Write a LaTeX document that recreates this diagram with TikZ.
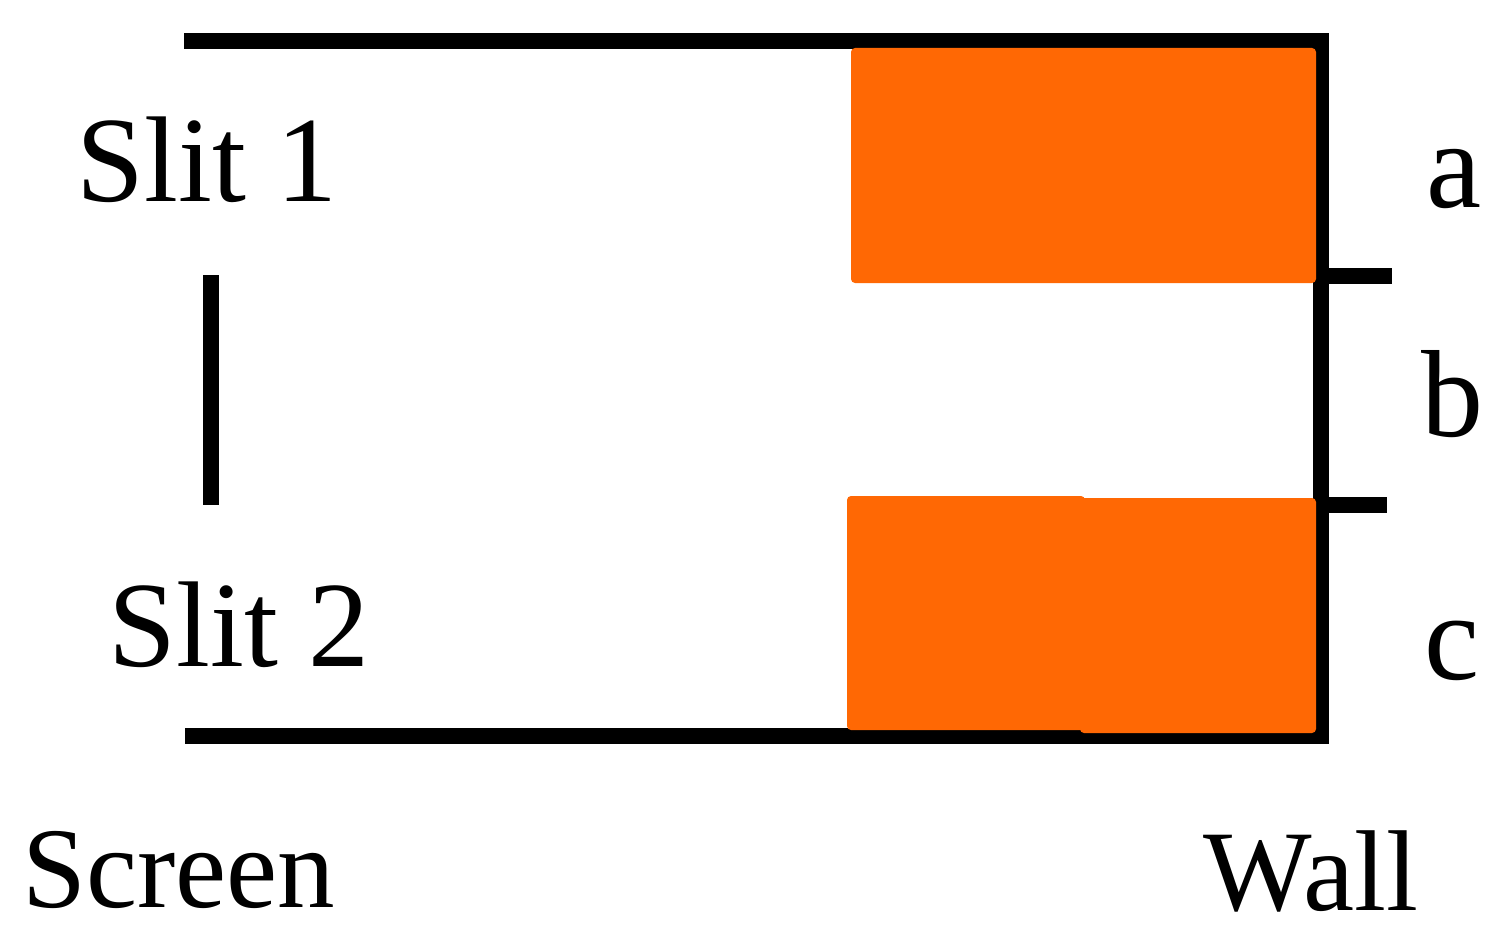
\documentclass[tikz,border=0pt]{standalone}
\usepackage{fontspec}
\setmainfont{Liberation Serif}
\definecolor{slitorange}{HTML}{FF6804}
\tikzset{
  wallline/.style={line width=16pt, draw=black, line join=miter, line cap=butt},
  band/.style={fill=slitorange, rounded corners=4pt},
  biglabel/.style={inner sep=0pt, anchor=base, font=\fontsize{122}{140}\selectfont},
  footlabel/.style={inner sep=0pt, anchor=base, font=\fontsize{115}{130}\selectfont},
  letterlabel/.style={inner sep=0pt, anchor=base, font=\fontsize{124}{140}\selectfont}
}
\begin{document}
\begin{tikzpicture}[x=1pt, y=-1pt]
\useasboundingbox (0,0) rectangle (1510,939);
% frame corners
\coordinate (tl) at (184,41);
\coordinate (tr) at (1321,41);
\coordinate (br) at (1321,736);
\coordinate (bl) at (185,736);
\coordinate (t1a) at (1321,276);
\coordinate (t1b) at (1392,276);
\coordinate (t2a) at (1321,505);
\coordinate (t2b) at (1387,505);
\coordinate (s1) at (211,275);
\coordinate (s2) at (211,505);
% screen / wall frame
\draw[wallline] (tl) -- (tr) -- (br) -- (bl);
\draw[wallline] (t1a) -- (t1b);
\draw[wallline] (t2a) -- (t2b);
\draw[wallline] (s1) -- (s2);
% orange bands
\fill[band] (851,48) rectangle (1316,283);
\fill[band] (847,496) rectangle (1085,730);
\fill[band] (1080,498) rectangle (1316,733);
% labels
\node[biglabel] (slit1) at (207,201) {Slit 1};
\node[biglabel] (slit2) at (239,666) {Slit 2};
\node[footlabel] (screen) at (179,907) {Screen};
\node[footlabel] (wall) at (1311,910) {Wall};
\node[letterlabel] (la) at (1454,207) {a};
\node[letterlabel] (lb) at (1452,436) {b};
\node[letterlabel] (lc) at (1452,679) {c};
\end{tikzpicture}
\end{document}
